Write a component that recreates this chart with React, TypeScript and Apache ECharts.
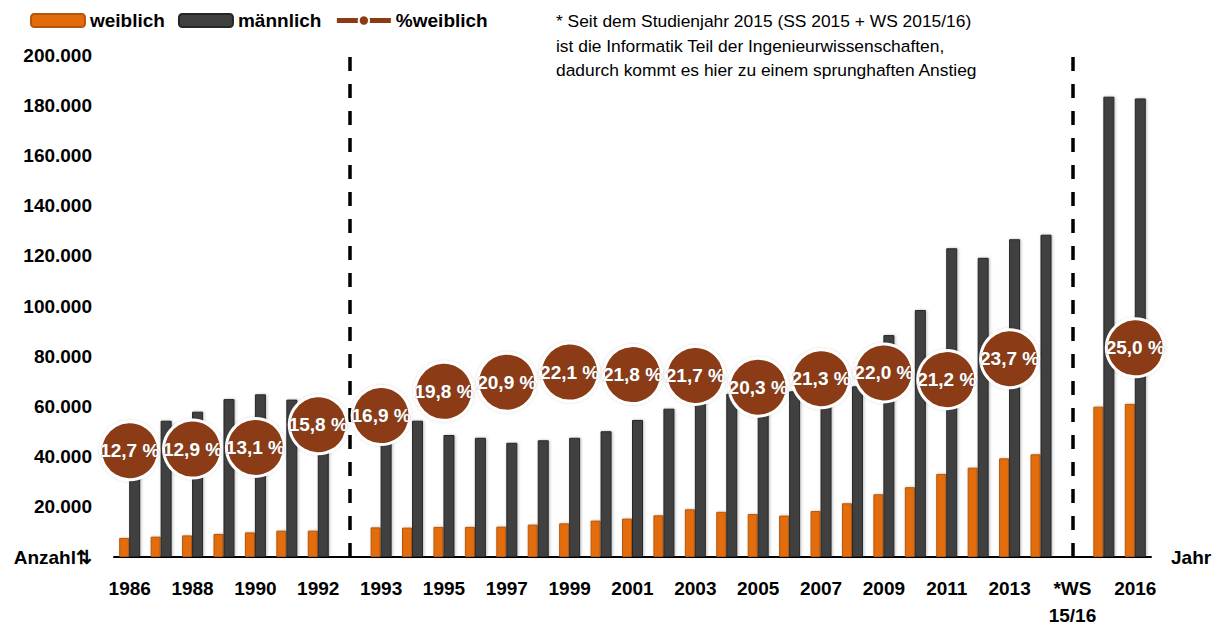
import React, { useEffect, useRef } from "react";
import * as echarts from "echarts";

const categories = [
  "1986", "1987", "1988", "1989", "1990", "1991", "1992", "",
  "1993", "1994", "1995", "1996", "1997", "1998", "1999", "2000",
  "2001", "2002", "2003", "2004", "2005", "2006", "2007", "2008",
  "2009", "2010", "2011", "2012", "2013", "2014", "*WS\n15/16", "2015", "2016",
];

const weiblich = [
  7600, 8100, 8600, 9200, 9800, 10500, 10500, null,
  11800, 11700, 12000, 12000, 12100, 12900, 13400, 14500,
  15300, 16600, 19000, 18000, 17100, 16500, 18300, 21400,
  25000, 27800, 33100, 35600, 39300, 40900, null, 59900, 61000,
];

const maennlich = [
  52200, 54300, 57900, 62900, 64800, 62700, 56000, null,
  58000, 54300, 48600, 47500, 45500, 46500, 47500, 50100,
  54600, 59100, 68600, 65000, 67100, 66000, 67600, 68000,
  88400, 98400, 123000, 119200, 126600, 128400, null, 183400, 182700,
];

const prozentWeiblich = [
  12.7, null, 12.9, null, 13.1, null, 15.8, null,
  16.9, null, 19.8, null, 20.9, null, 22.1, null,
  21.8, null, 21.7, null, 20.3, null, 21.3, null,
  22.0, null, 21.2, null, 23.7, null, null, null, 25.0,
];

const yTicks = { min: 0, max: 200000, interval: 20000 };
const dividerIndices = [7, 30];
const noteLines = [
  "* Seit dem Studienjahr 2015 (SS 2015 + WS 2015/16)",
  "ist die Informatik Teil der Ingenieurwissenschaften,",
  "dadurch kommt es hier zu einem sprunghaften Anstieg",
];

const FONT = "'Liberation Sans', Arial, sans-serif";
const BROWN = "#8B3A13";
const ORANGE = "#E36C0A";
const DARK = "#404040";

function fmtThousands(v: number): string {
  if (v === 0) return "Anzahl\u21C5";
  return String(v).replace(/\B(?=(\d{3})+(?!\d))/g, ".");
}

export default function App() {
  const ref = useRef<HTMLDivElement>(null);
  useEffect(() => {
    document.body.style.margin = "0";
    if (!ref.current) return;
    const chart = echarts.init(ref.current, undefined, { renderer: "svg" });
    chart.setOption({
      animation: false,
      backgroundColor: "#ffffff",
      textStyle: { fontFamily: FONT },
      legend: {
        left: 25,
        top: 6,
        itemWidth: 54,
        itemHeight: 13,
        itemGap: 13,
        textStyle: { fontFamily: FONT, fontSize: 19, fontWeight: "bold", color: "#000" },
        data: [
          "weiblich",
          "männlich",
          {
            name: "%weiblich",
            lineStyle: { width: 5, color: BROWN },
            itemStyle: { color: BROWN, borderColor: "#ffffff", borderWidth: 2 },
          },
        ],
      },
      grid: { left: 114, right: 70, top: 55, bottom: 72 },
      xAxis: {
        type: "category",
        data: categories,
        boundaryGap: true,
        axisLine: { show: true, lineStyle: { color: "#000", width: 2 } },
        axisTick: { show: false },
        axisLabel: {
          interval: 1,
          margin: 18,
          fontFamily: FONT,
          fontSize: 19,
          fontWeight: "bold",
          color: "#000",
          lineHeight: 27,
        },
        name: "Jahr",
        nameLocation: "end",
        nameGap: 20,
        nameTextStyle: { fontFamily: FONT, fontSize: 19, fontWeight: "bold", color: "#000" },
      },
      yAxis: [
        {
          type: "value",
          min: yTicks.min,
          max: yTicks.max,
          interval: yTicks.interval,
          axisLine: { show: false },
          axisTick: { show: false },
          splitLine: { show: false },
          axisLabel: {
            margin: 22,
            fontFamily: FONT,
            fontSize: 19,
            fontWeight: "bold",
            color: "#000",
            formatter: (v: number) => fmtThousands(v),
          },
        },
        {
          type: "value",
          min: 0,
          max: 60,
          show: false,
          splitLine: { show: false },
        },
      ],
      series: [
        {
          name: "weiblich",
          type: "bar",
          data: weiblich,
          barWidth: 10,
          barGap: "0%",
          itemStyle: {
            color: ORANGE,
            borderColor: "#B4570A",
            borderWidth: 1,
            shadowColor: "rgba(0,0,0,0.25)",
            shadowBlur: 3,
            shadowOffsetX: 1,
          },
        },
        {
          name: "männlich",
          type: "bar",
          data: maennlich,
          barWidth: 11,
          barGap: "0%",
          itemStyle: {
            color: DARK,
            borderColor: "#262626",
            borderWidth: 1,
            shadowColor: "rgba(0,0,0,0.25)",
            shadowBlur: 3,
            shadowOffsetX: 1,
          },
        },
        {
          name: "%weiblich",
          type: "line",
          yAxisIndex: 1,
          data: prozentWeiblich,
          connectNulls: false,
          showAllSymbol: true,
          symbol: "circle",
          symbolSize: 58,
          z: 5,
          lineStyle: { color: BROWN, width: 5 },
          itemStyle: {
            color: BROWN,
            borderColor: "#ffffff",
            borderWidth: 3,
            shadowColor: "rgba(0,0,0,0.15)",
            shadowBlur: 3,
          },
          label: {
            show: true,
            position: "inside",
            fontFamily: FONT,
            fontSize: 19,
            fontWeight: "bold",
            color: "#ffffff",
            textBorderColor: "rgba(90,90,90,0.35)",
            textBorderWidth: 1,
            formatter: (p: any) => `${Number(p.value).toFixed(1).replace(".", ",")} %`,
          },
          markLine: {
            silent: true,
            symbol: ["none", "none"],
            label: { show: false },
            lineStyle: { color: "#000", width: 3.5, type: [14, 13] },
            data: dividerIndices.map((i) => ({ xAxis: i })),
          },
        },
        {
          name: "ring",
          type: "scatter",
          yAxisIndex: 1,
          data: prozentWeiblich,
          symbol: "circle",
          symbolSize: 51,
          silent: true,
          z: 4,
          itemStyle: {
            color: "rgba(0,0,0,0)",
            borderColor: "rgba(255,255,255,0.85)",
            borderWidth: 1.2,
          },
        },
      ],
      graphic: [
        {
          type: "text",
          left: 556,
          top: 9,
          z: 10,
          style: {
            text: noteLines.join("\n"),
            fontFamily: FONT,
            fontSize: 17.4,
            lineHeight: 24.5,
            fill: "#000",
          },
        },
      ],
    });
    return () => chart.dispose();
  }, []);
  return <div ref={ref} style={{ width: 1221, height: 629 }} />;
}
